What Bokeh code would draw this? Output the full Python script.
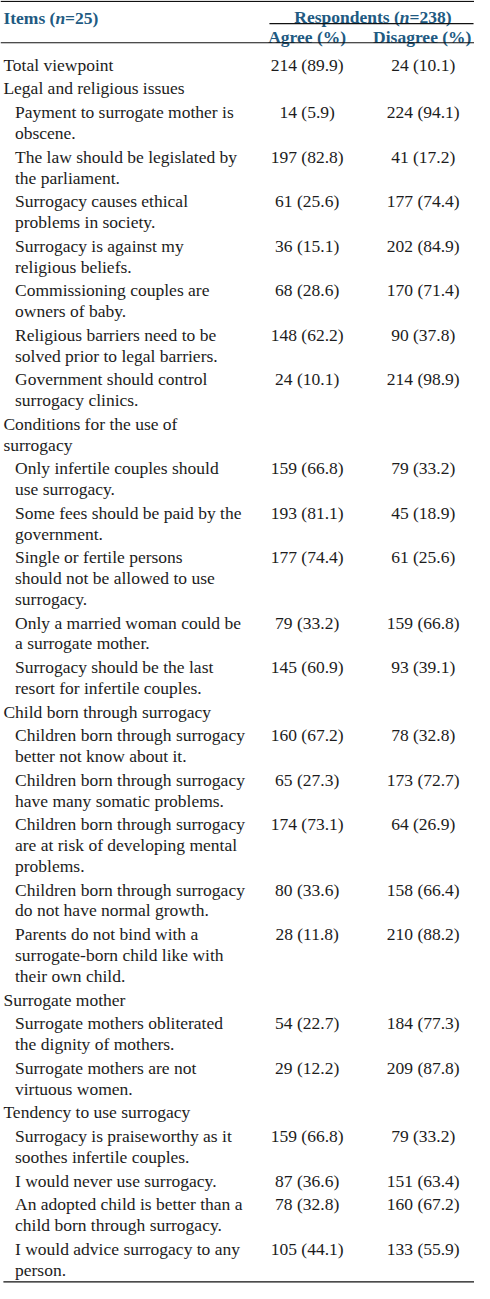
from bokeh.plotting import figure
from bokeh.models import ColumnDataSource, Range1d
from bokeh.core.properties import value
from bokeh.embed import file_html
from bokeh.resources import INLINE

# ---------------- data ----------------
items = [
    "Total viewpoint",
    "Legal and religious issues",
    "Payment to surrogate mother is\nobscene.",
    "The law should be legislated by\nthe parliament.",
    "Surrogacy causes ethical\nproblems in society.",
    "Surrogacy is against my\nreligious beliefs.",
    "Commissioning couples are\nowners of baby.",
    "Religious barriers need to be\nsolved prior to legal barriers.",
    "Government should control\nsurrogacy clinics.",
    "Conditions for the use of\nsurrogacy",
    "Only infertile couples should\nuse surrogacy.",
    "Some fees should be paid by the\ngovernment.",
    "Single or fertile persons\nshould not be allowed to use\nsurrogacy.",
    "Only a married woman could be\na surrogate mother.",
    "Surrogacy should be the last\nresort for infertile couples.",
    "Child born through surrogacy",
    "Children born through surrogacy\nbetter not know about it.",
    "Children born through surrogacy\nhave many somatic problems.",
    "Children born through surrogacy\nare at risk of developing mental\nproblems.",
    "Children born through surrogacy\ndo not have normal growth.",
    "Parents do not bind with a\nsurrogate-born child like with\ntheir own child.",
    "Surrogate mother",
    "Surrogate mothers obliterated\nthe dignity of mothers.",
    "Surrogate mothers are not\nvirtuous women.",
    "Tendency to use surrogacy",
    "Surrogacy is praiseworthy as it\nsoothes infertile couples.",
    "I would never use surrogacy.",
    "An adopted child is better than a\nchild born through surrogacy.",
    "I would advice surrogacy to any\nperson.",
]
level = [0, 0, 1, 1, 1, 1, 1, 1, 1, 0, 1, 1, 1, 1, 1, 0, 1, 1, 1, 1, 1, 0, 1, 1, 0, 1, 1, 1, 1]
agree_n = [214, None, 14, 197, 61, 36, 68, 148, 24, None, 159, 193, 177, 79, 145,
           None, 160, 65, 174, 80, 28, None, 54, 29, None, 159, 87, 78, 105]
agree_pct = [89.9, None, 5.9, 82.8, 25.6, 15.1, 28.6, 62.2, 10.1, None, 66.8, 81.1, 74.4, 33.2, 60.9,
             None, 67.2, 27.3, 73.1, 33.6, 11.8, None, 22.7, 12.2, None, 66.8, 36.6, 32.8, 44.1]
disagree_n = [24, None, 224, 41, 177, 202, 170, 90, 214, None, 79, 45, 61, 159, 93,
              None, 78, 173, 64, 158, 210, None, 184, 209, None, 79, 151, 160, 133]
disagree_pct = [10.1, None, 94.1, 17.2, 74.4, 84.9, 71.4, 37.8, 98.9, None, 33.2, 18.9, 25.6, 66.8, 39.1,
                None, 32.8, 72.7, 26.9, 66.4, 88.2, None, 77.3, 87.8, None, 33.2, 63.4, 67.2, 55.9]

header_items = ["Items (", "n", "=25)"]
header_resp = ["Respondents (", "n", "=238)"]
col_headers = ["Agree (%)", "Disagree (%)"]

# ---------------- layout ----------------
W, H = 474, 1283
REF_W, REF_H = 490, 1299
FONT = value("Liberation Serif")
FS = 17.5
FSZ = f"{FS}px"
INK = "#1c1c1c"
HEAD = "#215a82"

X_CAT, X_ITEM = 3, 15
X_AGREE, X_DIS = 317, 437
FIRST_BASE, LINE, PAD = 65, 21.0, 3.07

p = figure(width=W, height=H, x_range=Range1d(0, REF_W), y_range=Range1d(REF_H, 0),
           output_backend="svg", toolbar_location=None, min_border=0,
           x_axis_location=None, y_axis_location=None)
p.outline_line_color = None
p.grid.visible = False
p.background_fill_color = "white"
p.border_fill_color = "white"

# body rows
lx, ly, lt = [], [], []
nx, ny, nt = [], [], []
base = FIRST_BASE
for i, lab in enumerate(items):
    lines = lab.split("\n")
    x0 = X_CAT if level[i] == 0 else X_ITEM
    for k, ln in enumerate(lines):
        lx.append(x0)
        ly.append(base + k * LINE)
        lt.append(ln)
    if agree_n[i] is not None:
        nx += [X_AGREE, X_DIS]
        ny += [base, base]
        nt += [f"{agree_n[i]} ({agree_pct[i]:.1f})", f"{disagree_n[i]} ({disagree_pct[i]:.1f})"]
    base += len(lines) * LINE + PAD

p.text(x="x", y="y", text="t", source=ColumnDataSource(dict(x=lx, y=ly, t=lt)),
       text_font=FONT, text_font_size=FSZ, text_color=INK,
       text_align="left", text_baseline="alphabetic")
p.text(x="x", y="y", text="t", source=ColumnDataSource(dict(x=nx, y=ny, t=nt)),
       text_font=FONT, text_font_size=FSZ, text_color=INK,
       text_align="center", text_baseline="alphabetic")

# header with bold / bold italic pieces (Times-Bold metrics, per 1000 em)
BW = {" ": 250, "(": 333, ")": 333, "%": 1000, "=": 570, "A": 722, "D": 722, "I": 389,
      "R": 722, "a": 500, "d": 556, "e": 444, "g": 500, "i": 278, "m": 833, "n": 556,
      "o": 500, "p": 556, "r": 444, "s": 389, "t": 333}
for c in "0123456789":
    BW[c] = 500

def wpx(s):
    return sum(BW.get(c, 500) for c in s) * FS / 1000.0

def pieces(parts, x_anchor, x_left_px, y):
    off = 0.0
    for j, part in enumerate(parts):
        p.text(x=[x_anchor], y=[y], text=[part], x_offset=off + x_left_px,
               text_font=FONT, text_font_size=FSZ, text_color=HEAD,
               text_font_style="bold italic" if j == 1 else "bold",
               text_align="left", text_baseline="alphabetic")
        off += wpx(part)

pieces(header_items, X_CAT, 0, 17.5)
tot = sum(wpx(s) for s in header_resp)
pieces(header_resp, 385, -tot / 2, 17.0)

p.text(x=[X_AGREE, X_DIS - 1], y=[37.0, 37.0], text=col_headers,
       text_font=FONT, text_font_size=FSZ, text_color=HEAD, text_font_style="bold",
       text_align="center", text_baseline="alphabetic")

# rules
p.segment(x0=[0, 278, 0, 3], y0=[0.8, 23.5, 42.8, 1297.3],
          x1=[REF_W, 489, REF_W, REF_W], y1=[0.8, 23.5, 42.8, 1297.3],
          line_color="#111111", line_width=1.2)

open("out.html", "w").write(file_html(p, INLINE))
